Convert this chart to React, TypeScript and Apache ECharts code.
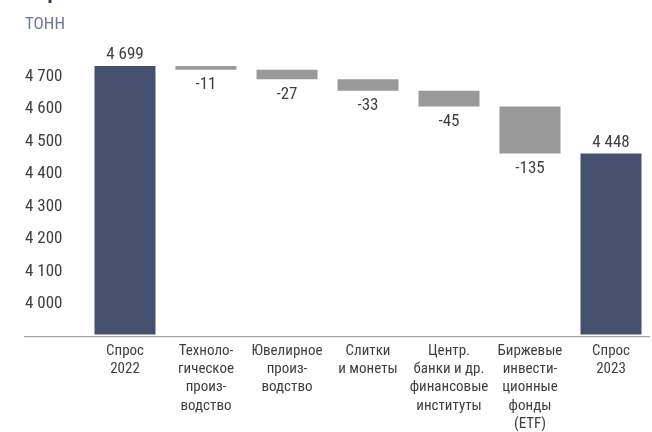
import React, { useEffect, useRef } from "react";
import * as echarts from "echarts";

const categories = [
  "Спрос\n2022",
  "Техноло-\nгическое\nпроиз-\nводство",
  "Ювелирное\nпроиз-\nводство",
  "Слитки\nи монеты",
  "Центр.\nбанки и др.\nфинансовые\nинституты",
  "Биржевые\nинвести-\nционные\nфонды\n(ETF)",
  "Спрос\n2023",
];
const startTotal = 4699;
const endTotal = 4448;
const changes = [-11, -27, -33, -45, -135];
const yTicks = [4000, 4100, 4200, 4300, 4400, 4500, 4600, 4700];

const FONT = "'Liberation Sans Narrow', 'Roboto Condensed', Roboto, sans-serif";
const TEXT = "#3f3f3f";
const NAVY = "#465170";
const GRAY = "#999999";

const fmt = (v: number) => String(v).replace(/\B(?=(\d{3})+(?!\d))/g, " ");

export default function App() {
  const ref = useRef<HTMLDivElement>(null);
  useEffect(() => {
    if (!ref.current) return;
    const chart = echarts.init(ref.current, undefined, { renderer: "svg" });

    const base: number[] = [0];
    const delta: any[] = [];
    delta.push({
      value: startTotal,
      itemStyle: { color: NAVY },
      label: { show: true, position: "top", distance: 4, formatter: fmt(startTotal) },
    });
    let level = startTotal;
    changes.forEach((c) => {
      level += c;
      base.push(level);
      delta.push({
        value: -c,
        itemStyle: { color: GRAY },
        label: { show: true, position: "bottom", distance: 5, formatter: String(c) },
      });
    });
    base.push(0);
    delta.push({
      value: endTotal,
      itemStyle: { color: NAVY },
      label: { show: true, position: "top", distance: 4, formatter: fmt(endTotal) },
    });

    chart.setOption({
      animation: false,
      textStyle: { fontFamily: FONT },
      grid: { left: 84.5, right: 0.5, top: 60, bottom: 432 - 336.7 },
      graphic: [
        {
          type: "text",
          left: 25,
          top: -19,
          style: { text: "Спрос на золото", font: `bold 21px ${FONT}`, fill: "#2e3a5c" },
        },
        {
          type: "text",
          left: 25,
          top: 14,
          style: { text: "ТОНН", font: `17px ${FONT}`, fill: "#6b7699" },
        },
        {
          type: "line",
          shape: { x1: 24, y1: 336.7, x2: 650, y2: 336.7 },
          style: { stroke: "#a6a6a6", lineWidth: 1.3 },
        },
      ],
      xAxis: {
        type: "category",
        data: categories,
        axisLine: { show: false },
        axisTick: { show: false },
        axisLabel: {
          interval: 0,
          margin: 6,
          color: TEXT,
          fontSize: 15,
          lineHeight: 18.3,
          fontFamily: FONT,
        },
      },
      yAxis: [
        {
          type: "value",
          min: 3900,
          max: 4744.9,
          interval: 100,
          splitLine: { show: false },
          axisLine: { show: false },
          axisTick: { show: false },
          axisLabel: {
            margin: 22,
            color: TEXT,
            fontSize: 17,
            fontFamily: FONT,
            formatter: (v: number) => (yTicks.indexOf(v) >= 0 ? fmt(v) : ""),
          },
        },
        {
          type: "value",
          min: 3929.5,
          max: 4716,
          show: false,
          splitLine: { show: false },
        },
      ],
      series: [
        {
          type: "bar",
          yAxisIndex: 1,
          stack: "w",
          barWidth: 61,
          silent: true,
          itemStyle: { color: "rgba(0,0,0,0)" },
          data: base,
        },
        {
          type: "bar",
          yAxisIndex: 1,
          stack: "w",
          barWidth: 61,
          silent: true,
          label: { color: TEXT, fontSize: 17, fontFamily: FONT },
          data: delta,
        },
      ],
    });
    return () => chart.dispose();
  }, []);
  return (
    <div
      ref={ref}
      style={{ position: "fixed", left: 0, top: 0, width: 652, height: 432 }}
    />
  );
}
